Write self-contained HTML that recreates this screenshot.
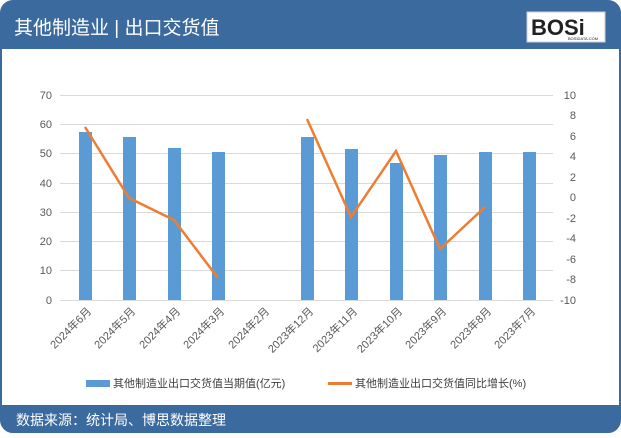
<!DOCTYPE html>
<html><head><meta charset="utf-8"><style>
body{margin:0;background:#fff;}
svg text{font-family:"Liberation Sans","Noto Sans CJK SC",sans-serif;}
</style></head><body>
<svg width="621" height="433" xmlns="http://www.w3.org/2000/svg">
<rect x="1" y="1" width="619" height="431" rx="12" fill="#fff" stroke="#3a6a9e" stroke-width="2"/>
<path d="M1,13 a12,12 0 0 1 12,-12 H608 a12,12 0 0 1 12,12 V49 H1 Z" fill="#3a6a9e"/>
<text x="14" y="34" font-size="19" fill="#fff">其他制造业 | 出口交货值</text>
<rect x="527" y="12" width="78" height="30" fill="#fff" stroke="#ccc"/>
<text x="531" y="35" font-size="22" font-weight="bold" fill="#222">BOSi</text>
<text x="568" y="40" font-size="4" fill="#222">BOSIDATA.COM</text>
<path d="M1,405 H620 V420 a12,12 0 0 1 -12,12 H13 a12,12 0 0 1 -12,-12 Z" fill="#3a6a9e"/>
<text x="16" y="425" font-size="14" fill="#fff">数据来源：统计局、博思数据整理</text>
<g stroke="#d9d9d9" stroke-width="1">
<line x1="60" x2="553" y1="95.5" y2="95.5"/><line x1="60" x2="553" y1="124.5" y2="124.5"/>
<line x1="60" x2="553" y1="153.5" y2="153.5"/><line x1="60" x2="553" y1="183.5" y2="183.5"/>
<line x1="60" x2="553" y1="212.5" y2="212.5"/><line x1="60" x2="553" y1="241.5" y2="241.5"/>
<line x1="60" x2="553" y1="270.5" y2="270.5"/><line x1="60" x2="553" y1="300.5" y2="300.5"/>
</g>
<g font-size="11" fill="#595959" text-anchor="end">
<text x="52" y="99">70</text><text x="52" y="128">60</text><text x="52" y="157">50</text><text x="52" y="187">40</text><text x="52" y="216">30</text><text x="52" y="245">20</text><text x="52" y="274">10</text><text x="52" y="304">0</text>
</g>
<g font-size="11" fill="#595959" text-anchor="end">
<text x="576" y="99">10</text><text x="576" y="119">8</text><text x="576" y="140">6</text><text x="576" y="160">4</text><text x="576" y="181">2</text><text x="576" y="201">0</text><text x="576" y="222">-2</text><text x="576" y="242">-4</text><text x="576" y="263">-6</text><text x="576" y="283">-8</text><text x="576" y="304">-10</text>
</g>
<g fill="#5b9bd5">
<rect x="79" y="132" width="13" height="168"/>
<rect x="123" y="137" width="13" height="163"/>
<rect x="168" y="148" width="13" height="152"/>
<rect x="212" y="152" width="13" height="148"/>
<rect x="301" y="137" width="13" height="163"/>
<rect x="345" y="149" width="13" height="151"/>
<rect x="390" y="163" width="13" height="137"/>
<rect x="434" y="155" width="13" height="145"/>
<rect x="479" y="152" width="13" height="148"/>
<rect x="523" y="152" width="13" height="148"/>
</g>
<polyline fill="none" stroke="#ed7d31" stroke-width="2.5" points="85,127 129,198 174,220 218,278"/>
<polyline fill="none" stroke="#ed7d31" stroke-width="2.5" points="307,119 351,217 396,151 440,249 485,207"/>
<g font-size="11" fill="#595959" text-anchor="end">
<text transform="translate(92,312) rotate(-45)">2024年6月</text>
<text transform="translate(136,312) rotate(-45)">2024年5月</text>
<text transform="translate(181,312) rotate(-45)">2024年4月</text>
<text transform="translate(225,312) rotate(-45)">2024年3月</text>
<text transform="translate(270,312) rotate(-45)">2024年2月</text>
<text transform="translate(314,312) rotate(-45)">2023年12月</text>
<text transform="translate(358,312) rotate(-45)">2023年11月</text>
<text transform="translate(403,312) rotate(-45)">2023年10月</text>
<text transform="translate(447,312) rotate(-45)">2023年9月</text>
<text transform="translate(492,312) rotate(-45)">2023年8月</text>
<text transform="translate(536,312) rotate(-45)">2023年7月</text>
</g>
<rect x="86" y="380" width="24" height="7" fill="#5b9bd5"/>
<text x="113" y="387" font-size="11" fill="#404040">其他制造业出口交货值当期值(亿元)</text>
<rect x="328" y="382" width="24" height="3" fill="#ed7d31"/>
<text x="355" y="387" font-size="11" fill="#404040">其他制造业出口交货值同比增长(%)</text>
</svg>
</body></html>
